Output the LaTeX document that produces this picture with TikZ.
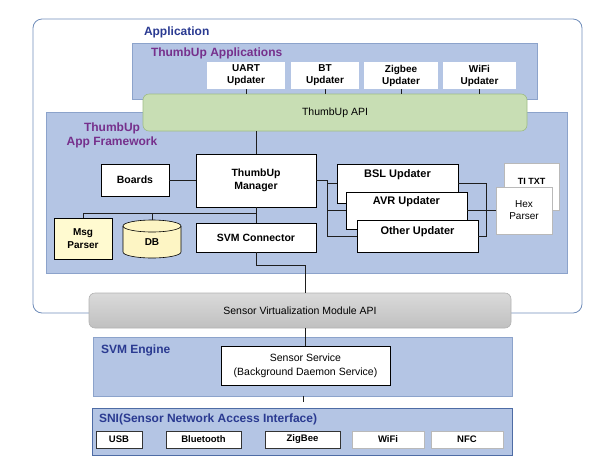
\documentclass[tikz,border=0pt]{standalone}
\usepackage{fontspec}
\setmainfont{Liberation Sans}
\usetikzlibrary{calc}
\definecolor{areablue}{RGB}{180,197,228}
\definecolor{areaedge}{RGB}{140,163,203}
\definecolor{outeredge}{RGB}{112,141,186}
\definecolor{headpurple}{RGB}{118,48,140}
\definecolor{headblue}{RGB}{42,58,145}
\definecolor{apifill}{RGB}{200,222,180}
\definecolor{apiedge}{RGB}{158,188,132}
\definecolor{graytop}{RGB}{218,218,218}
\definecolor{graybot}{RGB}{192,192,192}
\definecolor{grayedge}{RGB}{178,178,178}
\definecolor{yellowfill}{RGB}{255,250,208}
\definecolor{dbfill}{RGB}{253,245,196}
\definecolor{lightedge}{RGB}{185,185,185}
\definecolor{sniedge}{RGB}{78,108,165}
\definecolor{linecol}{RGB}{30,30,30}
\begin{document}
\begin{tikzpicture}[x=1pt,y=-1pt,
  every node/.style={inner sep=0pt, outer sep=0pt},
  outerbox/.style={draw=outeredge, line width=0.8pt, rounded corners=9pt},
  area/.style={fill=areablue, draw=areaedge, line width=0.6pt},
  snibox/.style={fill=areablue, draw=sniedge, line width=1pt},
  apibox/.style={fill=apifill, draw=apiedge, line width=0.6pt, rounded corners=6pt, font=\fontsize{10.5}{12}\selectfont},
  graybox/.style={top color=graytop, bottom color=graybot, draw=grayedge, line width=0.6pt, rounded corners=6pt, font=\fontsize{10.5}{12}\selectfont},
  upbox/.style={fill=white, align=center, font=\bfseries\fontsize{10}{12}\selectfont},
  wbox/.style={fill=white, draw=black, line width=0.6pt, align=center, font=\bfseries\fontsize{10.5}{13.5}\selectfont},
  sensbox/.style={fill=white, draw=black, line width=0.6pt, align=center, font=\fontsize{10.5}{14}\selectfont},
  ybox/.style={fill=yellowfill, draw=black, line width=0.6pt, align=center, font=\bfseries\fontsize{10}{13}\selectfont},
  rbox/.style={fill=white, draw=black, line width=0.6pt},
  rlbl/.style={anchor=center, font=\bfseries\fontsize{11}{12}\selectfont},
  lbox/.style={fill=white, draw=lightedge, line width=0.6pt, align=center, font=\fontsize{10}{12}\selectfont},
  sbox/.style={fill=white, draw=black!80, line width=0.6pt, font=\bfseries\fontsize{9.5}{11}\selectfont},
  sboxl/.style={fill=white, draw=lightedge, line width=0.6pt, font=\bfseries\fontsize{9.5}{11}\selectfont},
  headp/.style={font=\bfseries\fontsize{12}{14}\selectfont, text=headpurple},
  headb/.style={font=\bfseries\fontsize{12}{14}\selectfont, text=headblue},
  conn/.style={draw=linecol, line width=0.7pt}]
\useasboundingbox (0,0) rectangle (605,467);

% outer application frame
\draw[outerbox] (33,19) rectangle (582,313);
\node[headb, anchor=west] (applbl) at (144,32) {Application};

% ThumbUp applications
\draw[area] (132,43) rectangle (537,99);
\node[headp, anchor=west] (appslbl) at (151,53) {ThumbUp Applications};
\node[upbox, minimum width=78pt, minimum height=27pt] (uart) at (246,75.5) {UART\\Updater};
\node[upbox, minimum width=68pt, minimum height=27pt] (bt) at (325,75.5) {BT\\Updater};
\node[upbox, minimum width=74pt, minimum height=27pt] (zig) at (401,75.5) {Zigbee\\Updater};
\node[upbox, minimum width=73pt, minimum height=27pt] (wifiu) at (479.5,75.5) {WiFi\\Updater};

% framework
\draw[area] (46,112) rectangle (567,273);
\node[apibox, minimum width=384pt, minimum height=37pt] (api) at (335,112.5) {ThumbUp API};
\draw[conn] (uart.south) -- (uart.south |- api.north);
\draw[conn] (bt.south) -- (bt.south |- api.north);
\draw[conn] (zig.south) -- (zig.south |- api.north);
\draw[conn] (wifiu.south) -- (wifiu.south |- api.north);
\node[headp, align=center] (fwlbl) at (112,135) {ThumbUp\\App Framework};

\node[wbox, minimum width=120pt, minimum height=53pt] (mgr) at (256,180.5) {ThumbUp\\Manager};
\node[wbox, minimum width=68pt, minimum height=32pt] (boards) at (135,180) {Boards};
\node[ybox, minimum width=58pt, minimum height=41pt] (msg) at (83,238.5) {Msg\\Parser};
\node[wbox, minimum width=120pt, minimum height=29pt] (svmc) at (256,237.5) {SVM Connector};

% DB cylinder
\path[fill=dbfill, draw=black, line width=0.6pt] (123,226) -- (123,252)
  arc[start angle=180, end angle=0, x radius=29, y radius=6] -- (181,226)
  arc[start angle=0, end angle=-180, x radius=29, y radius=6] -- cycle;
\draw[line width=0.6pt] (123,226) arc[start angle=180, end angle=0, x radius=29, y radius=6];
\node[font=\bfseries\fontsize{10}{12}\selectfont] (db) at (152,242) {DB};
\coordinate (dbtop) at (152,220);

\draw[conn] (api.south -| mgr.north) -- (mgr.north);
\draw[conn] (boards.east) -- (boards.east -| mgr.west);
\draw[conn] (mgr.south) -- (svmc.north);
\coordinate (busL) at (83,213);
\draw[conn] (mgr.south |- busL) -- (busL) -- (msg.north);
\draw[conn] (dbtop) -- (dbtop |- busL);

% updaters on the right
\coordinate (rb) at (327,0);
\coordinate (rr) at (486,0);
\node[lbox, minimum width=55pt, minimum height=47pt, label={[anchor=center, yshift=-18pt, font=\bfseries\fontsize{9}{11}\selectfont]north:TI TXT}] (titxt) at (531.5,186.5) {};
\node[lbox, minimum width=56pt, minimum height=47pt] (hex) at (524,210.5) {Hex\\Parser};
\node[rbox, minimum width=121pt, minimum height=39pt, label={[rlbl, yshift=-11pt]north:BSL Updater}] (bsl) at (397.5,183.5) {};
\node[rbox, minimum width=121pt, minimum height=37pt, label={[rlbl, yshift=-10pt]north:AVR Updater}] (avr) at (406.5,210.5) {};
\node[rbox, minimum width=121pt, minimum height=32pt, label={[rlbl, yshift=-12pt]north:Other Updater}] (oth) at (417.5,236) {};
\draw[conn] (mgr.east) -- (rb |- mgr.east) -- (rb |- oth.west) -- (oth.west);
\draw[conn] (rb |- bsl.west) -- (bsl.west);
\draw[conn] (rb |- avr.west) -- (avr.west);
\draw[conn] (bsl.east) -- (rr |- bsl.east) -- (rr |- oth.east) -- (oth.east);
\draw[conn] (avr.east) -- (hex.west);

% SVM API
\node[graybox, minimum width=422pt, minimum height=35pt] (svmapi) at (300,310.5) {Sensor Virtualization Module API};

% SVM engine
\draw[area] (93,337) rectangle (512,396);
\node[headb, anchor=west] (englbl) at (101,350) {SVM Engine};
\node[sensbox, minimum width=169pt, minimum height=39pt] (sens) at (305.5,365.5) {Sensor Service\\(Background Daemon Service)};
\draw[conn] (svmc.south) -- ++(0,13) -| (sens.north |- svmapi.north);
\draw[conn] (svmapi.south -| sens.north) -- (sens.north);
\coordinate (engbot) at (303,396);
\draw[conn] (engbot) -- ++(0,6) coordinate (stub);

% SNI
\draw[snibox] (92,408) rectangle (512,455);
\node[headb, anchor=west] (snilbl) at (99,419) {SNI(Sensor Network Access Interface)};
\node[sbox, minimum width=46pt, minimum height=17pt] (usb) at (119,439.5) {USB};
\node[sbox, minimum width=75pt, minimum height=17pt] (blue) at (203.5,439.5) {Bluetooth};
\node[sbox, minimum width=75pt, minimum height=17pt] (zigb) at (302.5,439.5) {ZigBee};
\node[sboxl, minimum width=72pt, minimum height=17pt] (wifi) at (388,439.5) {WiFi};
\node[sboxl, minimum width=72pt, minimum height=17pt] (nfc) at (467,439.5) {NFC};
\end{tikzpicture}
\end{document}
